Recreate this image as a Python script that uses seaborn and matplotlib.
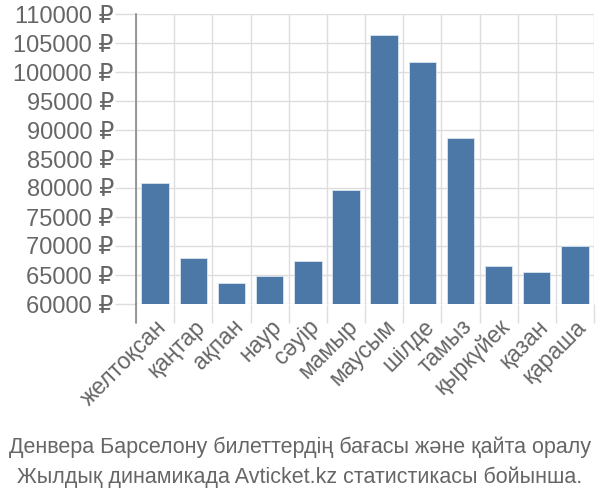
import matplotlib
matplotlib.use("Agg")
import matplotlib.pyplot as plt
import seaborn as sns
import pandas as pd

months = ["желтоқсан", "қаңтар", "ақпан", "наур", "сәуір", "мамыр",
          "маусым", "шілде", "тамыз", "қыркүйек", "қазан", "қараша"]
prices = [80900, 67900, 63600, 64900, 67400, 79700,
          106400, 101700, 88700, 66600, 65500, 70000]
yticks = list(range(60000, 110001, 5000))
title_lines = ["Денвера Барселону билеттердің бағасы және қайта оралу",
               "Жылдық динамикада Avticket.kz статистикасы бойынша."]

sns.set_theme(style="white")
plt.rcParams['font.family'] = ['Liberation Sans', 'DejaVu Sans']

df = pd.DataFrame({"month": months, "price": prices})

fig = plt.figure(figsize=(6, 5), dpi=100)
ax = fig.add_axes([0.2267, 0.392, 0.7633, 0.58])

sns.barplot(data=df, x="month", y="price", color="#4c78a8", saturation=1,
            width=0.72, edgecolor="#dbe4ef", linewidth=0.6, ax=ax, zorder=3)

ax.set_ylim(60000, 110000)
ax.set_xlim(-0.5, len(months) - 0.5)
ax.set_yticks(yticks)
ax.set_yticklabels([f"{v} ₽" for v in yticks])
ax.set_xticks(range(len(months)))
ax.set_xticklabels(months, rotation=45, ha="right", rotation_mode="anchor")
ax.set_xticks([i - 0.5 for i in range(len(months) + 1)], minor=True)

grid_c = "#dddddd"
text_c = "#666666"
ax.grid(True, axis="y", which="major", color=grid_c, linewidth=1, zorder=0)
ax.grid(True, axis="x", which="minor", color=grid_c, linewidth=1, zorder=0)
ax.grid(False, axis="x", which="major")
ax.tick_params(axis="x", which="major", bottom=True, length=0, pad=8,
               labelsize=16.5, labelcolor=text_c)
ax.tick_params(axis="x", which="minor", bottom=True, length=14, width=1, color=grid_c)
ax.tick_params(axis="y", which="major", left=True, length=15, width=1, color=grid_c,
               pad=1, labelsize=17, labelcolor=text_c)
ax.set_axisbelow(True)

for s in ["top", "right", "bottom"]:
    ax.spines[s].set_visible(False)
ax.spines["left"].set_color("#888888")
ax.spines["left"].set_linewidth(1.2)
ax.plot([0, 0], [0, -0.066], transform=ax.transAxes, color="#888888",
        linewidth=1.2, clip_on=False, zorder=4)

ax.set_xlabel("")
ax.set_ylabel("")

fig.text(0.5, 0.106, title_lines[0], ha="center", va="center", fontsize=15.5, color=text_c)
fig.text(0.5, 0.046, title_lines[1], ha="center", va="center", fontsize=15.5, color=text_c)

fig.savefig("out.png", dpi=100)
